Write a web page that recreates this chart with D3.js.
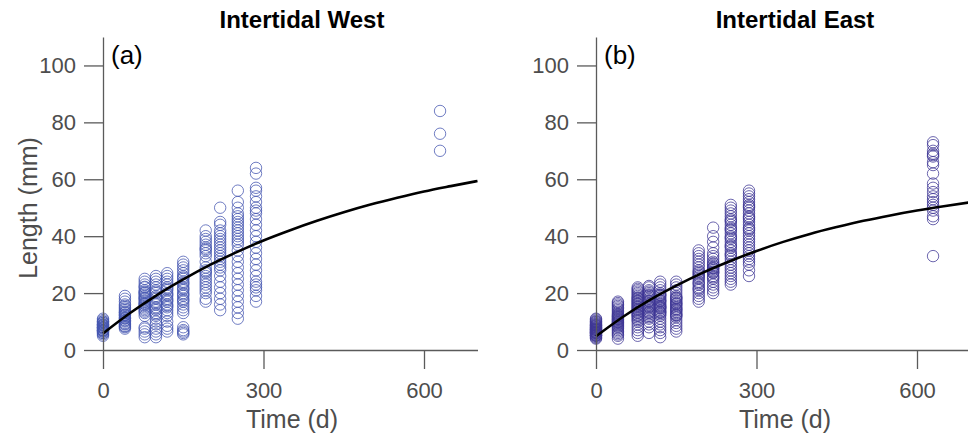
<!DOCTYPE html>
<html>
<head>
<meta charset="utf-8">
<script src="https://cdn.jsdelivr.net/npm/d3@7"></script>
<style>
  html, body { margin: 0; padding: 0; background: #fff; }
  svg { display: block; font-family: "Liberation Sans", Arial, Helvetica, sans-serif; }
</style>
</head>
<body>
<svg id="chart" width="968" height="437"></svg>
<script>
// ---- Data ----
const sampleDays = [0, 41, 78, 99, 120, 150, 192, 219, 252, 286, 630];

const westLengths = [
  [5, 5.5, 6, 6, 6.5, 6.5, 7, 7, 7, 7.5, 7.5, 8, 8, 8, 8.5, 8.5, 9, 9, 9.5, 9.5, 10, 10, 10.5, 11, 6.8, 7.8, 8.8],
  [7.5, 8, 8.5, 9, 9.5, 10, 10.5, 11, 11.5, 12, 12.5, 13, 13.5, 14, 14.5, 15, 15.5, 16, 17, 18, 19, 9.2, 11.2, 13.2, 8.3, 10.3, 12.3],
  [4.5, 5.5, 6.5, 7.5, 8, 12, 13, 14, 14.5, 15, 15.5, 16, 16.5, 17, 17.5, 18, 18.5, 19, 19.5, 20, 20.5, 21, 22, 23, 24, 25, 13.5, 16.2, 18.2, 20.2, 22.2],
  [4.5, 5.5, 6.5, 7.5, 9, 10, 11, 12, 13, 14, 15, 16, 17, 18, 19, 20, 21, 22, 23, 24, 25, 26, 14.5, 16.5, 18.5, 20.5, 12.5],
  [6.5, 7.5, 8.5, 10, 12, 13, 14, 15, 16, 17, 18, 19, 20, 21, 22, 23, 24, 25, 26, 27, 15.5, 17.5, 19.5, 21.5],
  [5.5, 6, 6.5, 7, 8, 13, 14, 15, 16, 17, 18, 19, 20, 21, 22, 23, 24, 25, 26, 27, 28, 29, 30, 31, 17.5, 19.5, 21.5, 23.5, 25.5],
  [17, 18, 20, 22, 23, 24, 25, 26, 27, 28, 29, 31, 33, 34, 35, 36, 37, 38, 39, 40, 42, 21, 27.5, 35.5],
  [14, 16, 18, 20, 22, 24, 26, 28, 29, 30, 31, 32, 33, 34, 35, 36, 37, 38, 39, 40, 41, 42, 44, 45, 50],
  [11, 13, 15, 17, 19, 21, 23, 25, 27, 29, 31, 33, 35, 37, 38, 39, 40, 41, 42, 43, 44, 45, 46, 47, 48, 50, 52, 56],
  [17, 19, 21, 22, 23, 24, 26, 28, 30, 32, 34, 36, 38, 40, 42, 44, 46, 48, 49, 50, 52, 54, 56, 57, 62, 64],
  [70, 76, 84]
];

const eastLengths = [
  [4, 4.3, 4.6, 5, 5, 5.3, 5.5, 5.7, 6, 6, 6.2, 6.5, 6.5, 6.8, 7, 7, 7.2, 7.5, 7.5, 7.8, 8, 8, 8.3, 8.5, 8.8, 9, 9.2, 9.5, 9.8, 10, 10.3, 10.7, 11, 6.3, 7.3, 8.6, 5.1, 5.9],
  [4, 5, 5.5, 6, 6.5, 7, 7.5, 8, 8.3, 8.6, 9, 9.3, 9.6, 10, 10.3, 10.6, 11, 11.3, 11.6, 12, 12.3, 12.6, 13, 13.5, 14, 14.5, 15, 15.5, 16, 16.5, 17, 9.8, 10.8, 11.8],
  [5, 6, 7, 8, 9, 10, 10.5, 11, 11.5, 12, 12.5, 13, 13.5, 14, 14.5, 15, 15.5, 16, 16.5, 17, 17.5, 18, 18.5, 19, 19.5, 20, 20.5, 21, 21.5, 22, 12.2, 14.2, 16.2, 18.2, 13.2, 15.2, 17.2],
  [6, 8, 9, 10, 11, 11.5, 12, 12.5, 13, 13.5, 14, 14.5, 15, 15.5, 16, 16.5, 17, 17.5, 18, 18.5, 19, 19.5, 20, 20.5, 21, 22, 22.5, 13.2, 15.2, 17.2, 19.2],
  [4.5, 6, 7, 8, 9, 10, 11, 12, 12.5, 13, 13.5, 14, 14.5, 15, 15.5, 16, 16.5, 17, 17.5, 18, 18.5, 19, 19.5, 20, 21, 22, 23, 24, 13.3, 15.3, 17.3, 19.3, 14.8],
  [6.5, 7.5, 8.5, 9.5, 10.5, 11.5, 12, 12.5, 13, 13.5, 14, 14.5, 15, 15.5, 16, 16.5, 17, 17.5, 18, 18.5, 19, 20, 21, 22, 23, 24, 12.3, 14.3, 16.3, 18.3],
  [17, 18, 19, 20, 21, 22, 23, 24, 25, 26, 27, 28, 29, 30, 31, 32, 33, 34, 35, 21.5, 23.5, 25.5, 27.5, 26.5],
  [20, 21, 22, 23, 24, 25, 26, 27, 27.5, 28, 28.5, 29, 29.5, 30, 31, 32, 33, 34, 36, 38, 40, 43, 25.5, 27.2, 28.8, 30.5],
  [23, 24, 25, 26, 27, 28, 29, 30, 31, 32, 33, 34, 35, 36, 37, 38, 39, 40, 41, 42, 43, 44, 45, 46, 47, 48, 49, 50, 51, 33.5, 36.5, 39.5, 42.5, 45.5],
  [26, 28, 30, 31, 32, 33, 34, 35, 36, 37, 38, 39, 40, 41, 42, 43, 44, 45, 46, 47, 48, 49, 50, 51, 52, 53, 54, 55, 56, 42.5, 46.5, 50.5],
  [33, 46, 47, 49, 50, 51, 52, 53, 54, 55.5, 57, 58.5, 62, 65, 66, 68, 68.5, 69, 70, 72, 73]
];

// fitted growth curves
const curveDays  = [0, 50, 100, 150, 200, 250, 300, 350, 400, 450, 500, 550, 600, 650, 700];
const westCurve  = [5.8, 12.9, 19.2, 24.8, 29.9, 34.4, 38.5, 42.1, 45.4, 48.4, 51.1, 53.5, 55.7, 57.6, 59.4];
const eastCurve  = [4.8, 11.6, 17.5, 22.6, 27.2, 31.2, 34.8, 38.0, 40.8, 43.2, 45.4, 47.3, 49.0, 50.5, 51.9];

const xTicks = [0, 300, 600];
const yTicks = [0, 20, 40, 60, 80, 100];
const panelTitles = ["Intertidal West", "Intertidal East"];
const panelTags = ["(a)", "(b)"];
const xLabel = "Time (d)";
const yLabel = "Length (mm)";

// ---- Drawing ----
const svg = d3.select("#chart");
const panels = [
  { left: 103, lengths: westLengths, curve: westCurve, color: "#4555b0", title: panelTitles[0], tag: panelTags[0], ylab: true },
  { left: 596, lengths: eastLengths, curve: eastCurve, color: "#3e3694", title: panelTitles[1], tag: panelTags[1], ylab: false }
];
const plotTop = 37, plotBottom = 350, plotWidth = 374.5;
const axisColor = "#5a5a5a", textColor = "#4d4d4d";

panels.forEach(p => {
  const x = d3.scaleLinear().domain([0, 700]).range([p.left, p.left + plotWidth]);
  const y = d3.scaleLinear().domain([0, 110]).range([plotBottom, plotTop]);
  const g = svg.append("g");

  // points
  const pts = [];
  sampleDays.forEach((d, i) => p.lengths[i].forEach(v => pts.push({ d, v })));
  g.append("g").selectAll("circle").data(pts).join("circle")
    .attr("cx", e => x(e.d)).attr("cy", e => y(e.v)).attr("r", 5.7)
    .attr("fill", "none").attr("stroke", p.color).attr("stroke-width", 0.9).attr("stroke-opacity", 0.85);

  // curve
  const cdata = curveDays.map((d, i) => ({ d, v: p.curve[i] }));
  g.append("path").datum(cdata)
    .attr("d", d3.line().x(e => x(e.d)).y(e => y(e.v)).curve(d3.curveMonotoneX))
    .attr("fill", "none").attr("stroke", "#000").attr("stroke-width", 2.6);

  // axes
  const xa = g.append("g").attr("transform", `translate(0,${plotBottom})`)
    .call(d3.axisBottom(x).tickValues(xTicks).tickSize(19).tickSizeOuter(0).tickPadding(13));
  const ya = g.append("g").attr("transform", `translate(${p.left},0)`)
    .call(d3.axisLeft(y).tickValues(yTicks).tickSize(19).tickSizeOuter(0).tickPadding(8));
  [xa, ya].forEach(a => {
    a.select(".domain").attr("stroke", axisColor).attr("stroke-width", 1.3);
    a.selectAll(".tick line").attr("stroke", axisColor).attr("stroke-width", 1.3);
    a.selectAll(".tick text").attr("fill", textColor).attr("font-size", 22)
      .attr("font-family", "Liberation Sans, Arial, sans-serif");
  });

  // title
  g.append("text").attr("x", p.left + 199).attr("y", 28).attr("text-anchor", "middle")
    .attr("font-size", 24).attr("font-weight", "bold").attr("fill", "#000").text(p.title);
  // tag
  g.append("text").attr("x", p.left + 8).attr("y", 64)
    .attr("font-size", 26).attr("fill", "#000").text(p.tag);
  // x label
  g.append("text").attr("x", p.left + 189).attr("y", 428).attr("text-anchor", "middle")
    .attr("font-size", 25).attr("fill", textColor).text(xLabel);
  if (p.ylab) {
    g.append("text").attr("transform", `translate(37,208) rotate(-90)`).attr("text-anchor", "middle")
      .attr("font-size", 25).attr("fill", textColor).text(yLabel);
  }
});
</script>
</body>
</html>
